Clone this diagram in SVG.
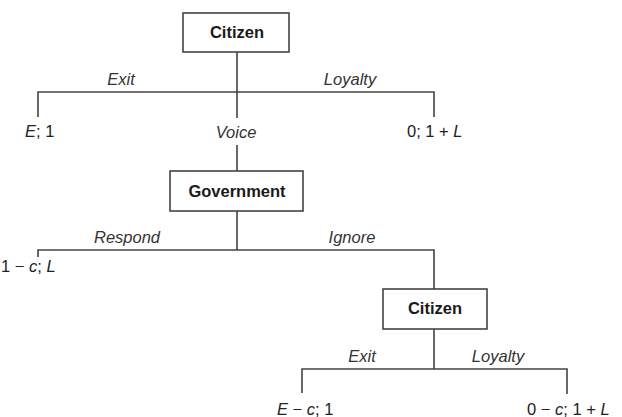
<svg xmlns="http://www.w3.org/2000/svg" width="622" height="417" viewBox="0 0 622 417">
<style>
.box{fill:#fff;stroke:#444;stroke-width:1.6}
.ln{fill:none;stroke:#444;stroke-width:1.6}
.nt{font-family:"Liberation Sans",Arial,sans-serif;font-size:16.5px;font-weight:bold;fill:#1a1a1a;text-anchor:middle}
.lb{font-family:"Liberation Sans",Arial,sans-serif;font-size:16.5px;font-style:italic;fill:#333;text-anchor:middle}
.po{font-family:"Liberation Sans",Arial,sans-serif;font-size:16.5px;fill:#222}
.i{font-style:italic}
</style>
<rect width="622" height="417" fill="#fff"/>
<g id="connectors">
<path class="ln" d="M237 52V118M237 145V171M38 117V92H434V117"/>
<path class="ln" d="M237 211V250M38 257V250H434V289"/>
<path class="ln" d="M434 329V369M302 393V369H567V394"/>
</g>
<g id="citizen1">
<rect class="box" x="183" y="13" width="106" height="39"/>
<text class="nt" x="237" y="38">Citizen</text>
</g>
<g id="government">
<rect class="box" x="170" y="171" width="133" height="40"/>
<text class="nt" x="237" y="197">Government</text>
</g>
<g id="citizen2">
<rect class="box" x="383" y="289" width="104" height="40"/>
<text class="nt" x="435" y="314">Citizen</text>
</g>
<g id="labels">
<text class="lb" x="121" y="85">Exit</text>
<text class="lb" x="350" y="85">Loyalty</text>
<text class="lb" x="236" y="138">Voice</text>
<text class="lb" x="127" y="243">Respond</text>
<text class="lb" x="352" y="243">Ignore</text>
<text class="lb" x="362" y="362">Exit</text>
<text class="lb" x="498" y="362">Loyalty</text>
</g>
<g id="payoffs">
<text class="po" x="25" y="137"><tspan class="i">E</tspan>; 1</text>
<text class="po" x="407" y="137">0; 1 + <tspan class="i">L</tspan></text>
<text class="po" x="1" y="272">1 − <tspan class="i">c</tspan>; <tspan class="i">L</tspan></text>
<text class="po" x="277" y="415"><tspan class="i">E</tspan> − <tspan class="i">c</tspan>; 1</text>
<text class="po" x="527" y="415">0 − <tspan class="i">c</tspan>; 1 + <tspan class="i">L</tspan></text>
</g>
</svg>
